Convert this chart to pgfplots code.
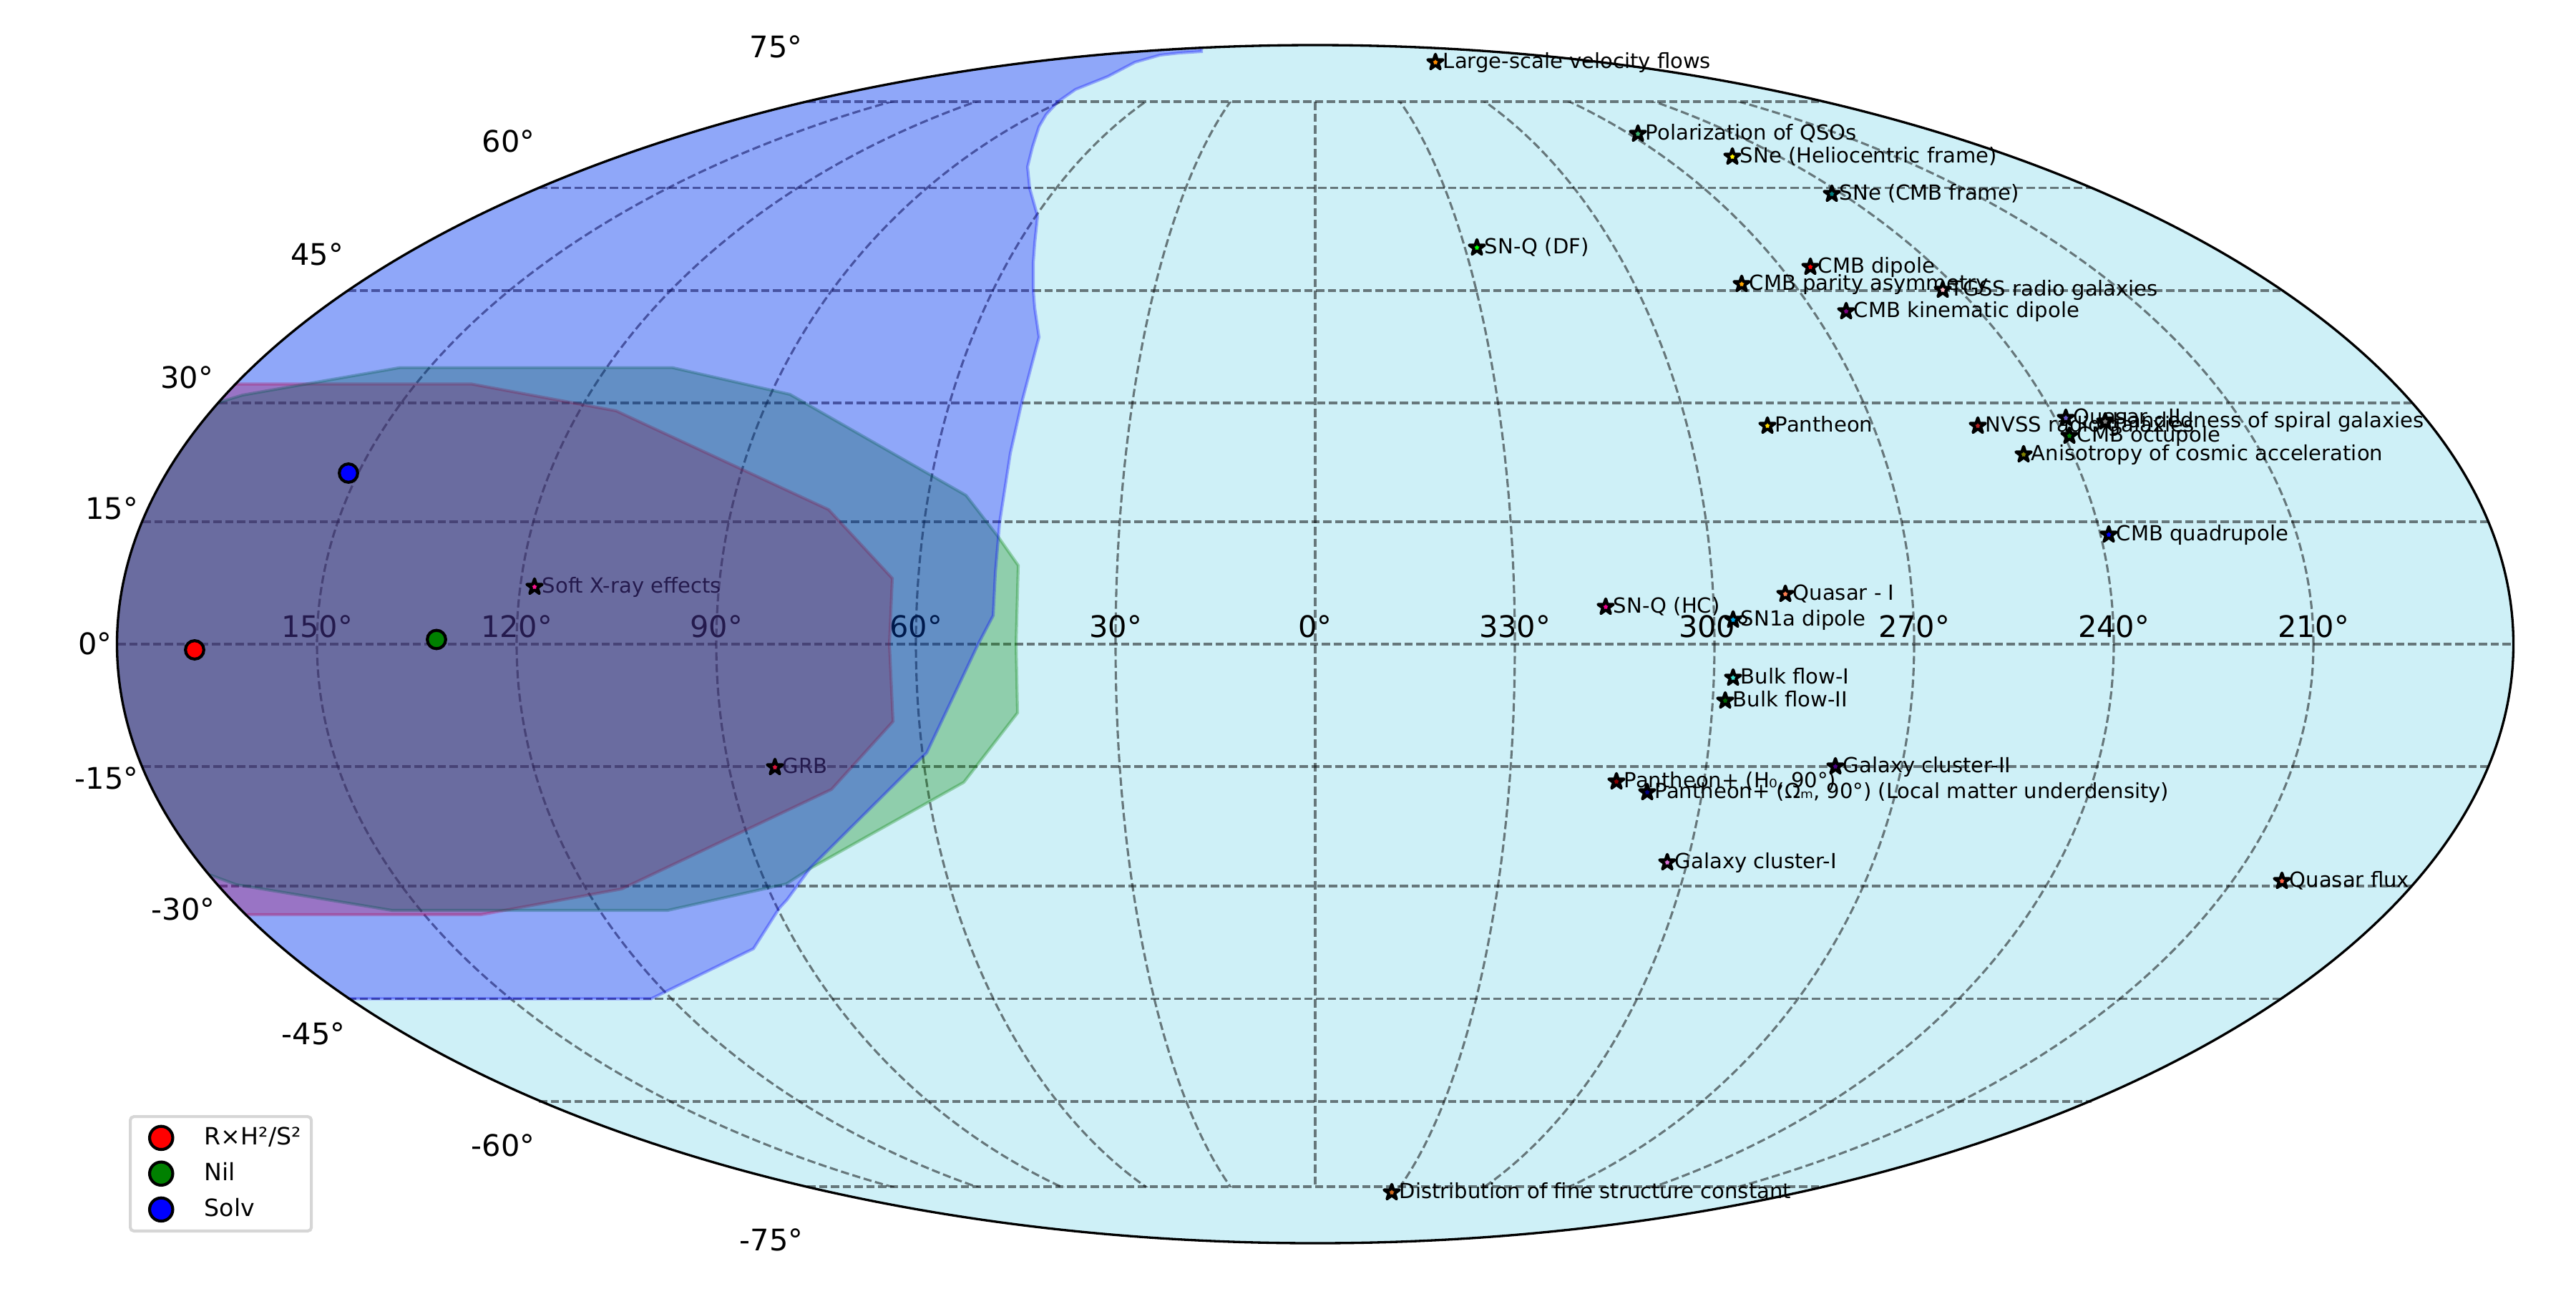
\documentclass[border=0pt]{standalone}
\usepackage{pgfplots}
\usepackage{fontspec}
\setmainfont{DejaVu Sans}
\usetikzlibrary{plotmarks}
\pgfplotsset{compat=1.18}

\definecolor{skybg}{RGB}{206,240,247}
\definecolor{mplgreen}{RGB}{0,128,0}
\definecolor{legframe}{RGB}{214,214,214}
\definecolor{darkorange}{RGB}{255,140,0}
\definecolor{seagreen}{RGB}{60,179,113}
\definecolor{slateb}{RGB}{106,90,205}
\definecolor{firebrick}{RGB}{178,34,34}
\definecolor{goldc}{RGB}{255,215,0}
\definecolor{coralc}{RGB}{255,127,80}
\definecolor{turq}{RGB}{64,224,208}
\definecolor{darkgr}{RGB}{0,100,0}
\definecolor{indigoc}{RGB}{75,0,130}
\definecolor{maroonc}{RGB}{139,0,0}
\definecolor{navyc}{RGB}{0,0,128}
\definecolor{orchidc}{RGB}{218,112,214}
\definecolor{tomatoc}{RGB}{255,99,71}
\definecolor{chococ}{RGB}{210,105,30}
\definecolor{deeppink}{RGB}{255,20,147}
\definecolor{crimsonc}{RGB}{220,20,60}
\definecolor{grayc}{RGB}{128,128,128}
\definecolor{olivec}{RGB}{128,128,0}
\definecolor{tealc}{RGB}{0,128,128}
\definecolor{purplec}{RGB}{128,0,128}
\definecolor{pinkc}{RGB}{255,192,203}
\definecolor{orangec}{RGB}{255,165,0}
\tikzset{grd/.style={black,opacity=.5,line width=.75pt,dash pattern=on 2.775pt off 1.2pt}}

% filled five point star, matplotlib style
\pgfdeclareplotmark{fstar}{%
  \pgfpathmoveto{\pgfpoint{0pt}{\pgfplotmarksize}}%
  \pgfpathlineto{\pgfpoint{-.2245\pgfplotmarksize}{.309\pgfplotmarksize}}%
  \pgfpathlineto{\pgfpoint{-.951\pgfplotmarksize}{.309\pgfplotmarksize}}%
  \pgfpathlineto{\pgfpoint{-.363\pgfplotmarksize}{-.118\pgfplotmarksize}}%
  \pgfpathlineto{\pgfpoint{-.588\pgfplotmarksize}{-.809\pgfplotmarksize}}%
  \pgfpathlineto{\pgfpoint{0pt}{-.382\pgfplotmarksize}}%
  \pgfpathlineto{\pgfpoint{.588\pgfplotmarksize}{-.809\pgfplotmarksize}}%
  \pgfpathlineto{\pgfpoint{.363\pgfplotmarksize}{-.118\pgfplotmarksize}}%
  \pgfpathlineto{\pgfpoint{.951\pgfplotmarksize}{.309\pgfplotmarksize}}%
  \pgfpathlineto{\pgfpoint{.2245\pgfplotmarksize}{.309\pgfplotmarksize}}%
  \pgfpathclose
  \pgfusepathqfillstroke
}

% star at (x,y), with its colour
\newcommand{\obs}[3]{%
  \addplot[only marks,mark=fstar,mark size=2.7pt,forget plot,
    mark options={fill=#1,draw=black,line width=1pt,line join=round}]
    coordinates {(#2,#3)};}
% label of the star at (x,y)
\newcommand{\lab}[3]{%
  \node[anchor=base west,inner sep=0pt,font=\fontsize{7}{8}\selectfont]
    at (axis cs:#1+10,#2+8.5) {#3};}
\newcommand{\lat}[3]{%
  \node[anchor=base east,inner sep=0pt,font=\fontsize{10}{12}\selectfont]
    at (axis cs:#1+4,#2+2) {#3};}
\newcommand{\lon}[2]{%
  \node[anchor=base,inner sep=0pt,font=\fontsize{10}{12}\selectfont]
    at (axis cs:#1,890) {#2};}

\begin{document}
\begin{tikzpicture}
\begin{axis}[
  scale only axis,
  width=12in,height=6in,
  xmin=0,xmax=3600,ymin=0,ymax=1800,
  y dir=reverse,
  hide axis,
  clip=false,
  legend cell align=left,
  legend image code/.code={\path[draw=none,fill=none] (0pt,-1pt) rectangle (21.5pt,1pt);
    \draw[#1,mark size=3.9pt] plot coordinates {(8.9pt,0pt)};},
  legend style={at={(axis cs:180,1722)},anchor=south west,
    draw=legframe,line width=1pt,rounded corners=1.2pt,fill=white,
    font=\fontsize{8}{9}\selectfont,
    inner xsep=1.5pt,inner ysep=1.45pt,
    row sep=.5pt},
]
\path (axis cs:0,0) rectangle (axis cs:3600,1800);
\fill[skybg] (axis cs:1838,900) ellipse [x radius=1674.5,y radius=837];

% parallels
\draw[grd] (axis cs:1128,142) -- (axis cs:2548,142);
\draw[grd] (axis cs:753,262.5) -- (axis cs:2923,262.5);
\draw[grd] (axis cs:486,406) -- (axis cs:3190,406);
\draw[grd] (axis cs:306,563) -- (axis cs:3370,563);
\draw[grd] (axis cs:199,729) -- (axis cs:3477,729);
\draw[grd] (axis cs:164,900) -- (axis cs:3512,900);
\draw[grd] (axis cs:199,1071) -- (axis cs:3477,1071);
\draw[grd] (axis cs:306,1238) -- (axis cs:3370,1238);
\draw[grd] (axis cs:486,1395.5) -- (axis cs:3190,1395.5);
\draw[grd] (axis cs:753,1539) -- (axis cs:2923,1539);
\draw[grd] (axis cs:1128,1658) -- (axis cs:2548,1658);
% meridians, cut off at +-75 degrees
\draw[grd] (axis cs:1838,142) -- (axis cs:1838,1658);
\begin{scope}
  \clip (axis cs:0,142) rectangle (axis cs:3600,1658);
  \draw[grd] (axis cs:1838,900) ellipse [x radius=279,y radius=837];
  \draw[grd] (axis cs:1838,900) ellipse [x radius=558,y radius=837];
  \draw[grd] (axis cs:1838,900) ellipse [x radius=837,y radius=837];
  \draw[grd] (axis cs:1838,900) ellipse [x radius=1116,y radius=837];
  \draw[grd] (axis cs:1838,900) ellipse [x radius=1395,y radius=837];
\end{scope}

% tick labels
\lat{1118}{78.5}{75°}
\lat{744}{210}{60°}
\lat{477}{368}{45°}
\lat{295}{540}{30°}
\lat{190}{723.6}{15°}
\lat{153}{912}{0°}
\lat{190}{1100.6}{-15°}
\lat{297}{1283}{-30°}
\lat{479}{1457}{-45°}
\lat{744}{1613}{-60°}
\lat{1119}{1745}{-75°}
\lon{443}{150°}
\lon{722}{120°}
\lon{1001}{90°}
\lon{1280}{60°}
\lon{1559}{30°}
\lon{1838}{0°}
\lon{2117}{330°}
\lon{2396}{300°}
\lon{2675}{270°}
\lon{2954}{240°}
\lon{3233}{210°}

% observation labels
\lab{2006}{87}{Large-scale velocity flows}
\lab{2289}{187}{Polarization of QSOs}
\lab{2421}{219}{SNe (Heliocentric frame)}
\lab{2560}{271}{SNe (CMB frame)}
\lab{2064}{346}{SN-Q (DF)}
\lab{2530}{373}{CMB dipole}
\lab{2434}{397}{CMB parity asymmetry}
\lab{2715}{405}{TGSS radio galaxies}
\lab{2580}{435}{CMB kinematic dipole}
\lab{2887}{584}{Quasar - II}
\lab{2942}{589}{Handedness of spiral galaxies}
\lab{2764}{595}{NVSS radio galaxies}
\lab{2470}{595}{Pantheon}
\lab{2892}{609}{CMB octupole}
\lab{2828}{635}{Anisotropy of cosmic acceleration}
\lab{2947}{747}{CMB quadrupole}
\lab{2495}{830}{Quasar - I}
\lab{2244}{848}{SN-Q (HC)}
\lab{2422}{866}{SN1a dipole}
\lab{2422}{947}{Bulk flow-I}
\lab{2411}{979}{Bulk flow-II}
\lab{2565}{1071}{Galaxy cluster-II}
\lab{2259}{1092}{Pantheon+ (H₀, 90°)}
\lab{2302}{1107}{Pantheon+ (Ωₘ, 90°) (Local matter underdensity)}
\lab{2330}{1205}{Galaxy cluster-I}
\lab{3189}{1231}{Quasar flux}
\lab{1945}{1666}{Distribution of fine structure constant}
\lab{747}{820}{Soft X-ray effects}
\lab{1083}{1072}{GRB}

% allowed regions of the three geometries
\begin{scope}
  \clip (axis cs:1838,900) ellipse [x radius=1674.5,y radius=837];
  \addplot[fill=red,draw=red,fill opacity=.3,draw opacity=.3,line width=1pt,forget plot]
    coordinates {(100,536.5) (659,536.5) (861,574) (1158,712) (1247,808) (1243,900)
      (1248,1008) (1162,1103) (869,1242) (672,1278) (100,1278)} --cycle;
  \addplot[fill=mplgreen,draw=mplgreen,fill opacity=.3,draw opacity=.3,line width=1pt,forget plot]
    coordinates {(100,620) (306,562) (339,552) (559,513.6) (939.5,513.6) (1104,551) (1350,692)
      (1395,750) (1423,790) (1420,900) (1422,996) (1347,1093) (1133,1213) (1099,1235)
      (933,1272) (548,1272) (330,1236) (295,1223) (100,1180)} --cycle;
  \addplot[fill=blue,draw=blue,fill opacity=.3,draw opacity=.3,line width=1pt,forget plot]
    coordinates {(1679,66) (1679,72) (1648,74) (1621,77) (1586,87) (1548,107) (1503,125)
      (1478.6,142) (1462,160) (1452,177) (1443,205) (1436,233) (1439,263) (1450,302)
      (1446,340) (1444,367) (1444,405) (1446,430) (1452,471) (1428,562) (1412,633) (1397,730)
      (1391,800) (1388,860) (1367,900) (1295,1052) (1275,1071) (1133,1212) (1100,1257)
      (1089,1269) (1053,1325.5) (910,1395.5) (100,1395.5) (100,40) (1400,40)} --cycle;
\end{scope}
\draw[black,line width=.8pt] (axis cs:1838,900) ellipse [x radius=1674.5,y radius=837];

% observation directions
\obs{darkorange}{2006}{87}
\obs{seagreen}{2289}{187}
\obs{yellow}{2421}{219}
\obs{tealc}{2560}{271}
\obs{green}{2064}{346}
\obs{red}{2530}{373}
\obs{orangec}{2434}{397}
\obs{pinkc}{2715}{405}
\obs{purplec}{2580}{435}
\obs{slateb}{2887}{584}
\obs{grayc}{2942}{589}
\obs{firebrick}{2764}{595}
\obs{goldc}{2470}{595}
\obs{mplgreen}{2892}{609}
\obs{olivec}{2828}{635}
\obs{blue}{2947}{747}
\obs{coralc}{2495}{830}
\obs{magenta}{2244}{848}
\obs{cyan}{2422}{866}
\obs{turq}{2422}{947}
\obs{darkgr}{2411}{979}
\obs{indigoc}{2565}{1071}
\obs{maroonc}{2259}{1092}
\obs{navyc}{2302}{1107}
\obs{orchidc}{2330}{1205}
\obs{tomatoc}{3189}{1231}
\obs{chococ}{1945}{1666}
\obs{deeppink}{747}{820}
\obs{crimsonc}{1083}{1072}

% the three best fit axes
\addplot[only marks,mark=*,mark size=3.1pt,mark options={fill=red,draw=black,line width=1pt}]
  coordinates {(272,908)};
\addlegendentry{R×H²/S²}
\addplot[only marks,mark=*,mark size=3.1pt,mark options={fill=mplgreen,draw=black,line width=1pt}]
  coordinates {(610,893.5)};
\addlegendentry{Nil}
\addplot[only marks,mark=*,mark size=3.1pt,mark options={fill=blue,draw=black,line width=1pt}]
  coordinates {(487,661)};
\addlegendentry{Solv}
\end{axis}
\end{tikzpicture}
\end{document}
